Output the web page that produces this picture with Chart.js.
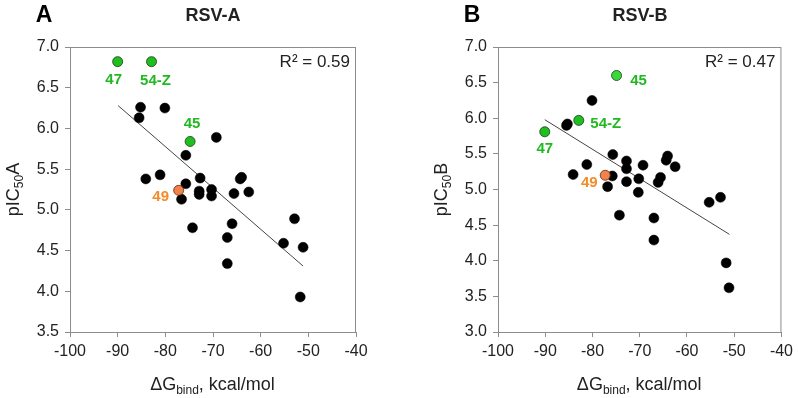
<!DOCTYPE html>
<html>
<head>
<meta charset="utf-8">
<script src="https://cdn.jsdelivr.net/npm/chart.js@4/dist/chart.umd.min.js"></script>
<style>
  body { margin: 0; background: #fff; }
  #wrap { position: relative; width: 798px; height: 398px; }
  canvas { position: absolute; top: 0; }
</style>
</head>
<body>
<div id="wrap">
  <canvas id="chart-a" width="399" height="398" style="left:0"></canvas>
  <canvas id="chart-b" width="398" height="398" style="left:400px"></canvas>
</div>
<script>
// ---- data ----
const ticksX = [-100, -90, -80, -70, -60, -50, -40];

// RSV-A
const dG_A = [-85.2, -85.5, -80.1, -69.3, -75.7, -84.1, -81.1, -72.7, -75.7, -64.3, -64.0, -65.6, -62.5,
  -72.9, -72.9, -70.3, -70.3, -76.6, -74.3, -66.0, -67.0, -67.0, -52.9, -55.2, -51.1, -51.7];
const pIC50_A = [6.26, 6.13, 6.25, 5.89, 5.67, 5.38, 5.43, 5.39, 5.32, 5.38, 5.40, 5.20, 5.22,
  5.23, 5.19, 5.25, 5.17, 5.13, 4.78, 4.83, 4.66, 4.34, 4.89, 4.59, 4.54, 3.93];
const greenNames_A = ["47", "54-Z", "45"];
const greenX_A = [-90.0, -82.9, -74.8];
const greenY_A = [6.82, 6.82, 5.84];
const orangeNames_A = ["49"];
const orangeX_A = [-77.2];
const orangeY_A = [5.24];
const fitX_A = [-89.9, -51.1];
const fitY_A = [6.28, 4.31];
const r2_A = "0.59";

// RSV-B
const dG_B = [-80.1, -85.5, -85.3, -75.7, -81.2, -84.1, -75.8, -76.8, -72.8, -72.8, -69.3, -72.8, -70.2,
  -70.3, -65.6, -66.1, -64.1, -64.4, -62.5, -74.3, -67.0, -67.0, -55.3, -52.9, -51.7, -51.1];
const pIC50_B = [6.25, 5.90, 5.92, 5.49, 5.35, 5.21, 5.19, 5.04, 5.40, 5.29, 5.34, 5.11, 5.15,
  4.96, 5.17, 5.10, 5.47, 5.41, 5.32, 4.64, 4.60, 4.29, 4.82, 4.89, 3.97, 3.62];
const greenNames_B = ["45", "54-Z", "47"];
const greenX_B = [-74.9, -82.9, -90.1];
const greenY_B = [6.60, 5.97, 5.81];
const orangeNames_B = ["49"];
const orangeX_B = [-77.3];
const orangeY_B = [5.20];
const fitX_B = [-90.1, -51.0];
const fitY_B = [5.98, 4.37];
const r2_B = "0.47";

const Config = {
  colors: {
    dot: "#000000",
    green: "#1fbf1f",
    greenLight: "#3ad93a",
    greenText: "#22b822",
    orange: "#f2824a",
    orangeText: "#f28c28",
    axis: "#8c8c8c",
    text: "#222222",
    fit: "#444444",
  },
  font: `"Liberation Sans", Arial, sans-serif`,
  dotRadius: 5,
  tickSize: 16,
};

Chart.defaults.font.family = Config.font;
Chart.defaults.color = Config.colors.text;

const toPoints = (xs, ys) => xs.map((x, i) => ({ x, y: ys[i] }));

// draws text made of pieces with different sizes (subscripts)
const drawPieces = (c, pieces, x, y) => {
  let total = 0;
  pieces.forEach((p) => {
    c.font = `${p.size}px ${Config.font}`;
    total += c.measureText(p.t).width;
  });
  let cx = x - total / 2;
  pieces.forEach((p) => {
    c.font = `${p.size}px ${Config.font}`;
    c.fillText(p.t, cx, y + (p.dy || 0));
    cx += c.measureText(p.t).width;
  });
};

const decorPlugin = {
  id: "decor",
  afterDraw(chart) {
    const o = chart.options.plugins.decor;
    const c = chart.ctx;
    const a = chart.chartArea;
    const sx = chart.scales.x;
    const sy = chart.scales.y;
    c.save();

    // frame
    c.strokeStyle = Config.colors.axis;
    c.lineWidth = 1;
    c.strokeRect(a.left + 0.5, a.top + 0.5, a.right - a.left - 1, a.bottom - a.top);

    // panel letter and title
    c.fillStyle = "#000";
    c.textBaseline = "middle";
    c.textAlign = "center";
    c.font = `bold 23px ${Config.font}`;
    c.fillText(o.letter, o.letterX, 16);
    c.fillStyle = Config.colors.text;
    c.font = `bold 18px ${Config.font}`;
    c.fillText(o.title, o.titleX, 16);

    // R^2
    c.textAlign = "right";
    c.font = `17px ${Config.font}`;
    c.fillText("R\u00b2 = " + o.r2, a.right - 6, 62);

    // point labels
    c.textAlign = "center";
    c.font = `bold 15px ${Config.font}`;
    o.labels.forEach((l) => {
      c.fillStyle = l.color;
      c.fillText(l.name, sx.getPixelForValue(l.x) + l.dx, sy.getPixelForValue(l.y) + l.dy);
    });

    // axis titles
    c.fillStyle = Config.colors.text;
    c.textAlign = "left";
    c.textBaseline = "alphabetic";
    drawPieces(c, [
      { t: "\u0394G", size: 18 },
      { t: "bind", size: 12, dy: 4 },
      { t: ", kcal/mol", size: 18 },
    ], (a.left + a.right) / 2 - 0.5, 390);

    c.translate(o.yTitleX, (a.top + a.bottom) / 2);
    c.rotate(-Math.PI / 2);
    drawPieces(c, [
      { t: "pIC", size: 18 },
      { t: "50", size: 12, dy: 4 },
      { t: o.yLetter, size: 18 },
    ], 0, 7);
    c.restore();
  },
};

const loadChart = (id, p) => {
  const ctx = document.getElementById(id);
  new Chart(ctx, {
    type: "scatter",
    data: {
      datasets: [
        {
          type: "line",
          data: toPoints(p.fitX, p.fitY),
          borderColor: Config.colors.fit,
          borderWidth: 1,
          pointRadius: 0,
          fill: false,
          order: 3,
        },
        {
          data: toPoints(p.x, p.y),
          backgroundColor: Config.colors.dot,
          borderColor: Config.colors.dot,
          pointRadius: Config.dotRadius,
          borderWidth: 0.5,
          order: 2,
        },
        {
          data: toPoints(p.greenX, p.greenY),
          backgroundColor: p.greenFill,
          borderColor: "#1a3a1a",
          pointRadius: Config.dotRadius,
          borderWidth: 0.8,
          order: 1,
        },
        {
          data: toPoints(p.orangeX, p.orangeY),
          backgroundColor: Config.colors.orange,
          borderColor: "#5a2a10",
          pointRadius: Config.dotRadius,
          borderWidth: 0.8,
          order: 1,
        },
      ],
    },
    options: {
      responsive: false,
      animation: false,
      layout: { padding: { top: 47, right: p.padRight, left: 0, bottom: 0 } },
      scales: {
        x: {
          type: "linear",
          min: -100,
          max: -40,
          afterBuildTicks: (s) => { s.ticks = ticksX.map((v) => ({ value: v })); },
          afterFit: (s) => { s.height = 66; },
          border: { color: Config.colors.axis, width: 1 },
          grid: { drawOnChartArea: false, tickLength: 5, color: Config.colors.axis },
          ticks: { padding: 5, font: { size: Config.tickSize }, color: Config.colors.text },
        },
        y: {
          type: "linear",
          min: p.yMin,
          max: 7,
          afterBuildTicks: (s) => { s.ticks = p.yTicks.map((v) => ({ value: v })); },
          afterFit: (s) => { s.width = p.yWidth; },
          border: { color: Config.colors.axis, width: 1 },
          grid: { drawOnChartArea: false, tickLength: 5, color: Config.colors.axis },
          ticks: {
            padding: 6,
            font: { size: Config.tickSize },
            color: Config.colors.text,
            callback: (v) => Number(v).toFixed(1),
          },
        },
      },
      plugins: {
        legend: { display: false },
        tooltip: { enabled: false },
        decor: {
          letter: p.letter,
          letterX: p.letterX,
          title: p.title,
          titleX: p.titleX,
          r2: p.r2,
          yLetter: p.yLetter,
          yTitleX: p.yTitleX,
          labels: p.labels,
        },
      },
    },
    plugins: [decorPlugin],
  });
};

loadChart("chart-a", {
  x: dG_A, y: pIC50_A,
  greenX: greenX_A, greenY: greenY_A,
  greenFill: [Config.colors.green, Config.colors.green, Config.colors.green],
  orangeX: orangeX_A, orangeY: orangeY_A,
  fitX: fitX_A, fitY: fitY_A,
  yMin: 3.5, yTicks: [3.5, 4.0, 4.5, 5.0, 5.5, 6.0, 6.5, 7.0],
  yWidth: 70, padRight: 43,
  letter: "A", letterX: 44, title: "RSV-A", titleX: 213, r2: r2_A,
  yLetter: "A", yTitleX: 12,
  labels: [
    { name: greenNames_A[0], x: greenX_A[0], y: greenY_A[0], dx: -4, dy: 18, color: Config.colors.greenText },
    { name: greenNames_A[1], x: greenX_A[1], y: greenY_A[1], dx: 4, dy: 19, color: Config.colors.greenText },
    { name: greenNames_A[2], x: greenX_A[2], y: greenY_A[2], dx: 2, dy: -18, color: Config.colors.greenText },
    { name: orangeNames_A[0], x: orangeX_A[0], y: orangeY_A[0], dx: -18, dy: 7, color: Config.colors.orangeText },
  ],
});

loadChart("chart-b", {
  x: dG_B, y: pIC50_B,
  greenX: greenX_B, greenY: greenY_B,
  greenFill: [Config.colors.greenLight, Config.colors.green, Config.colors.green],
  orangeX: orangeX_B, orangeY: orangeY_B,
  fitX: fitX_B, fitY: fitY_B,
  yMin: 3.0, yTicks: [3.0, 3.5, 4.0, 4.5, 5.0, 5.5, 6.0, 6.5, 7.0],
  yWidth: 98, padRight: 15,
  letter: "B", letterX: 72, title: "RSV-B", titleX: 240, r2: r2_B,
  yLetter: "B", yTitleX: 40,
  labels: [
    { name: greenNames_B[0], x: greenX_B[0], y: greenY_B[0], dx: 22, dy: 5, color: Config.colors.greenText },
    { name: greenNames_B[1], x: greenX_B[1], y: greenY_B[1], dx: 27, dy: 3, color: Config.colors.greenText },
    { name: greenNames_B[2], x: greenX_B[2], y: greenY_B[2], dx: 0, dy: 17, color: Config.colors.greenText },
    { name: orangeNames_B[0], x: orangeX_B[0], y: orangeY_B[0], dx: -16, dy: 8, color: Config.colors.orangeText },
  ],
});
</script>
</body>
</html>
